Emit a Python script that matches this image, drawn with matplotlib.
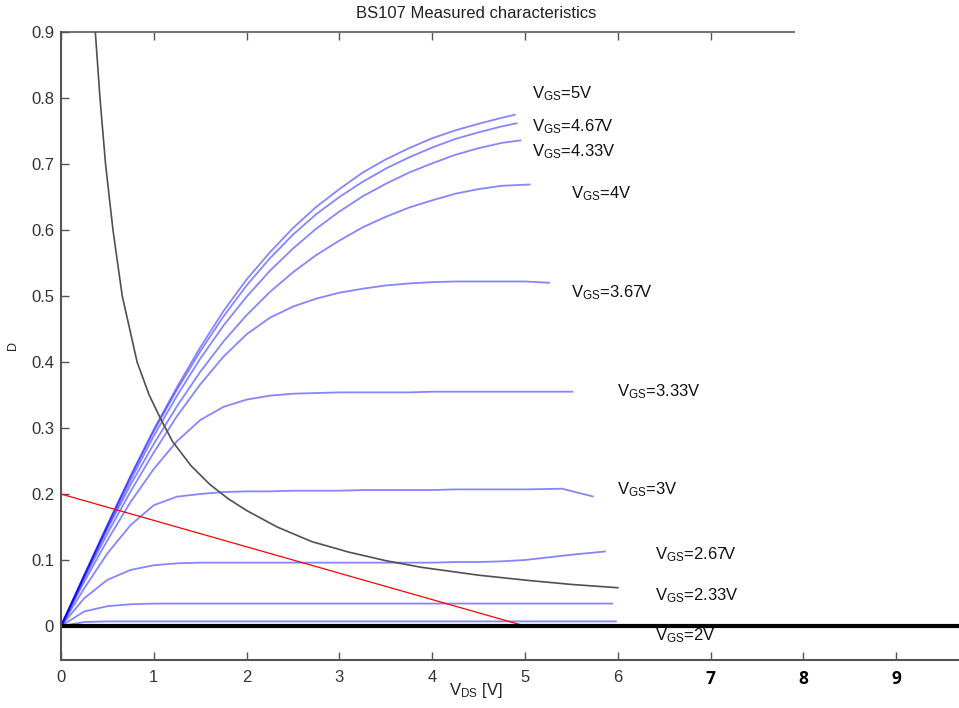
import matplotlib
matplotlib.use("Agg")
import matplotlib.pyplot as plt
from matplotlib.font_manager import FontProperties

plt.rcParams["font.family"] = ["Liberation Sans", "DejaVu Sans"]
plt.rcParams["mathtext.fontset"] = "custom"
plt.rcParams["mathtext.rm"] = "Liberation Sans"
plt.rcParams["mathtext.it"] = "Liberation Sans"
plt.rcParams["mathtext.default"] = "regular"

# ------------------------------------------------------------------ #
# Data
# ------------------------------------------------------------------ #
vds = [0, 0.25, 0.5, 0.75, 1.0, 1.25, 1.5, 1.75, 2.0, 2.25, 2.5, 2.75,
       3.0, 3.25, 3.5, 3.75, 4.0, 4.25, 4.5, 4.75]

id_5v00 = [0, 0.077, 0.153, 0.228, 0.298, 0.362, 0.422, 0.477, 0.525, 0.566, 0.603, 0.635,
           0.662, 0.687, 0.707, 0.724, 0.739, 0.751, 0.761, 0.77]
id_4v67 = [0, 0.077, 0.153, 0.226, 0.295, 0.358, 0.416, 0.469, 0.516, 0.557, 0.593, 0.624,
           0.650, 0.673, 0.693, 0.71, 0.725, 0.738, 0.748, 0.757]
id_4v33 = [0, 0.076, 0.15, 0.221, 0.288, 0.349, 0.405, 0.455, 0.499, 0.538, 0.572, 0.602,
           0.628, 0.651, 0.670, 0.687, 0.701, 0.714, 0.724, 0.732]
id_4v00 = [0, 0.075, 0.147, 0.214, 0.276, 0.333, 0.385, 0.431, 0.471, 0.506, 0.536, 0.562,
           0.584, 0.604, 0.620, 0.634, 0.645, 0.655, 0.662, 0.667]
id_3v67 = [0, 0.072, 0.14, 0.204, 0.263, 0.318, 0.366, 0.408, 0.442, 0.467, 0.484, 0.496,
           0.505, 0.511, 0.516, 0.519, 0.521, 0.522, 0.522, 0.522]
id_3v33 = [0, 0.067, 0.13, 0.188, 0.238, 0.28, 0.312, 0.332, 0.343, 0.349, 0.352, 0.353,
           0.354, 0.354, 0.354, 0.354, 0.355, 0.355, 0.355, 0.355]
id_3v00 = [0, 0.057, 0.11, 0.153, 0.183, 0.196, 0.2, 0.203, 0.204, 0.204, 0.205, 0.205,
           0.205, 0.206, 0.206, 0.206, 0.206, 0.207, 0.207, 0.207]
id_2v67 = [0, 0.042, 0.07, 0.085, 0.092, 0.095, 0.096, 0.096, 0.096, 0.096, 0.096, 0.096,
           0.096, 0.096, 0.096, 0.096, 0.096, 0.097, 0.097, 0.098]
id_2v33 = [0, 0.022, 0.03, 0.033, 0.034, 0.034, 0.034, 0.034, 0.034, 0.034, 0.034, 0.034,
           0.034, 0.034, 0.034, 0.034, 0.034, 0.034, 0.034, 0.034]
id_2v00 = [0, 0.006, 0.007, 0.007, 0.007, 0.007, 0.007, 0.007, 0.007, 0.007, 0.007, 0.007,
           0.007, 0.007, 0.007, 0.007, 0.007, 0.007, 0.007, 0.007]

# tail ends of each curve (beyond the common grid)
tail_x = {
    "5": [4.9], "4.67": [4.92], "4.33": [4.96], "4": [5.06],
    "3.67": [5.0, 5.27], "3.33": [5.0, 5.52], "3": [5.0, 5.4, 5.74],
    "2.67": [5.0, 5.5, 5.87], "2.33": [5.0, 5.95], "2": [5.0, 5.99],
}
tail_y = {
    "5": [0.775], "4.67": [0.762], "4.33": [0.736], "4": [0.669],
    "3.67": [0.522, 0.520], "3.33": [0.355, 0.355], "3": [0.207, 0.208, 0.196],
    "2.67": [0.100, 0.108, 0.113], "2.33": [0.034, 0.034], "2": [0.007, 0.007],
}

vgs_names = ["5", "4.67", "4.33", "4", "3.67", "3.33", "3", "2.67", "2.33", "2"]
vgs_curves = [id_5v00, id_4v67, id_4v33, id_4v00, id_3v67, id_3v33,
              id_3v00, id_2v67, id_2v33, id_2v00]

# label anchor (left edge / baseline) for each V_GS text
label_x = [5.08, 5.08, 5.08, 5.50, 5.50, 5.99, 5.99, 6.40, 6.40, 6.40]
label_y = [0.800, 0.750, 0.712, 0.648, 0.498, 0.348, 0.200, 0.1015, 0.039, -0.021]

# power-limit hyperbola (grey) and load line (red)
pmax_x = [0.37, 0.42, 0.48, 0.56, 0.66, 0.74, 0.82, 0.95, 1.07, 1.2, 1.4, 1.6,
          1.8, 2.0, 2.33, 2.7, 3.1, 3.5, 3.88, 4.5, 5.04, 5.5, 6.0]
pmax_y = [0.9, 0.8, 0.7, 0.6, 0.5, 0.45, 0.40, 0.35, 0.315, 0.28, 0.243, 0.215,
          0.193, 0.175, 0.150, 0.128, 0.112, 0.099, 0.089, 0.077, 0.069, 0.063, 0.058]
load_x = [0, 5]
load_y = [0.2, 0]

x_ticks = [0, 1, 2, 3, 4, 5, 6, 7, 8, 9]
x_tick_labels = ["0", "1", "2", "3", "4", "5", "6", "7", "8", "9"]
y_ticks = [0, 0.1, 0.2, 0.3, 0.4, 0.5, 0.6, 0.7, 0.8, 0.9]
y_tick_labels = ["0", "0.1", "0.2", "0.3", "0.4", "0.5", "0.6", "0.7", "0.8", "0.9"]


def main():
    W, H = 959, 708
    fig = plt.figure(figsize=(W / 100, H / 100), dpi=100)
    ax = fig.add_axes([61 / W, 48 / H, 898 / W, 628 / H])

    for name, curve in zip(vgs_names, vgs_curves):
        ax.plot(vds + tail_x[name], curve + tail_y[name],
                color="blue", alpha=0.48, lw=1.3, solid_capstyle="butt")

    ax.plot(pmax_x, pmax_y, color="#505050", lw=1.2)
    ax.plot(load_x, load_y, color="red", lw=0.9)
    ax.axhline(0, color="black", lw=3)

    for name, lx, ly in zip(vgs_names, label_x, label_y):
        ax.text(lx, ly, "V$_{GS}$=" + name + "V", fontsize=12,
                ha="left", va="baseline", color="#111111")

    ax.set_xlim(0, 898 / 92.8)
    ax.set_ylim(-0.0515, 0.9)

    # axes styling (MATLAB look, extended to the right)
    ax.spines["right"].set_visible(False)
    ax.spines["top"].set_visible(False)
    for s in ("left", "bottom"):
        ax.spines[s].set_color("#555555")
        ax.spines[s].set_linewidth(1.5)

    ax.set_xticks(x_ticks)
    ax.set_xticklabels(x_tick_labels)
    ax.set_yticks(y_ticks)
    ax.set_yticklabels(y_tick_labels)
    ax.tick_params(direction="in", length=6, width=1, color="#555555",
                   labelsize=12, labelcolor="#333333")
    ax.tick_params(axis="x", pad=7)
    ax.tick_params(axis="y", pad=5)
    bold = FontProperties(family="Open Sans", weight="bold", size=12.5)
    for lbl in ax.get_xticklabels():
        if lbl.get_text() in ("7", "8", "9"):
            lbl.set_fontproperties(bold)
            lbl.set_color("black")

    top = ax.secondary_xaxis("top")
    top.set_xticks(x_ticks[:8])
    top.tick_params(direction="in", length=6, width=1, color="#555555", labeltop=False)
    top.spines["top"].set_bounds(0, 7.9)
    top.spines["top"].set_color("#777777")
    top.spines["top"].set_linewidth(1.5)

    fig.text(476 / W, 1 - 14 / H, "BS107 Measured characteristics", fontsize=12,
             ha="center", va="center", color="#222222")
    fig.text(476 / W, 1 - 690 / H, "V$_{DS}$ [V]", fontsize=12,
             ha="center", va="center", color="#222222")
    fig.text(13 / W, 1 - 345 / H, "D", fontsize=9, rotation=90,
             ha="center", va="center", color="#222222")

    fig.savefig("out.png", dpi=100)


if __name__ == "__main__":
    main()
